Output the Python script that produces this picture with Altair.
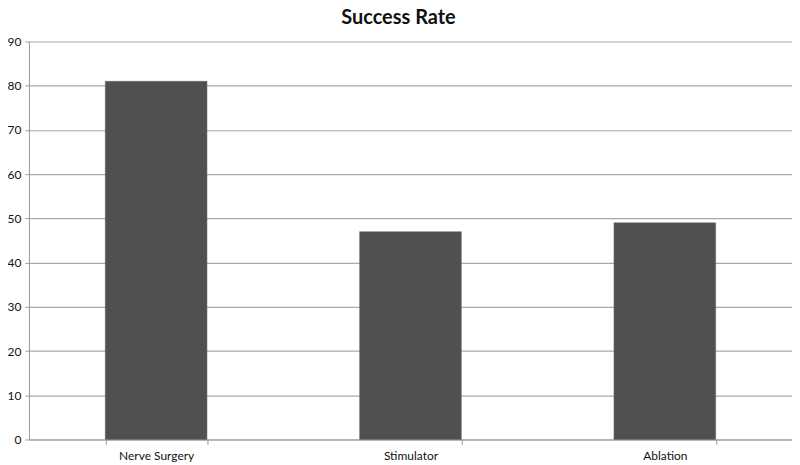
import altair as alt
import pandas as pd

categories = ["Nerve Surgery", "Stimulator", "Ablation"]
values = [81, 47, 49]

df = pd.DataFrame({"category": categories, "value": values})

chart = alt.Chart(df).mark_bar(color="#505050", stroke="#6a6a6a", strokeWidth=0.5).encode(
    x=alt.X("category:N", sort=categories, title=None,
            scale=alt.Scale(paddingInner=0.6, paddingOuter=0.3),
            axis=alt.Axis(labelAngle=0, tickBand="extent", grid=False,
                          domainColor="#9a9a9a", tickColor="#9a9a9a", tickSize=5,
                          labelFont="Lato", labelFontSize=12, labelColor="#111111",
                          labelPadding=6)),
    y=alt.Y("value:Q", title=None,
            scale=alt.Scale(domain=[0, 90], nice=False),
            axis=alt.Axis(values=list(range(0, 91, 10)), grid=True, gridColor="#a8a8a8",
                          gridWidth=1.2, domainColor="#9a9a9a", tickColor="#9a9a9a", tickSize=4,
                          labelFont="Lato", labelFontSize=12, labelColor="#111111",
                          labelPadding=4)),
).properties(
    width=765,
    height=399,
    title=alt.TitleParams("Success Rate", font="Lato", fontSize=20, fontWeight="bold",
                          color="#111111", anchor="middle", dx=-12, offset=8,
                          frame="group"),
    autosize=alt.AutoSizeParams(type="none"),
    padding={"left": 21, "top": 33, "right": 0, "bottom": 24},
).configure_view(stroke=None)

chart.save("out.html", embed_options={"renderer": "svg", "actions": False})
